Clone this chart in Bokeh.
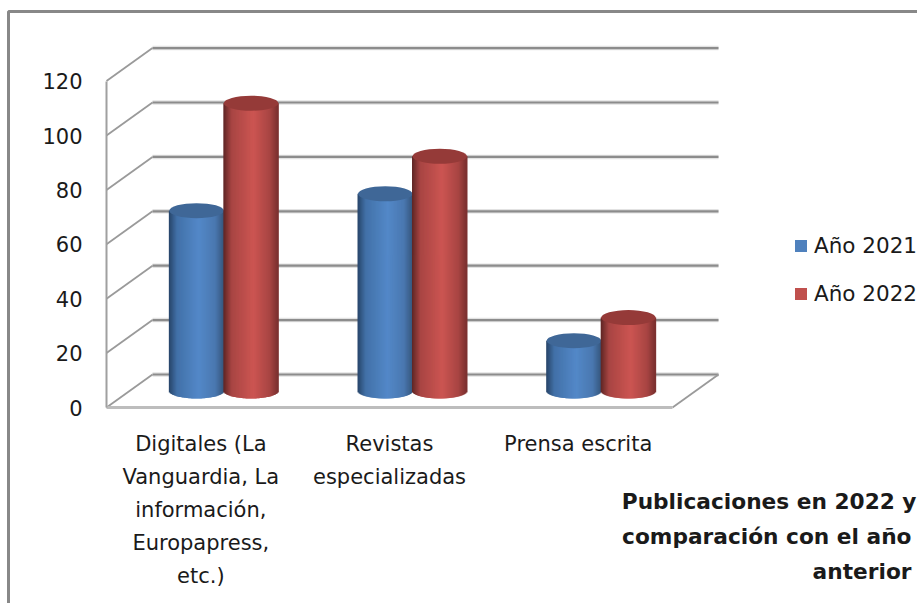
import math
from bokeh.embed import file_html
from bokeh.resources import INLINE
from bokeh.plotting import figure
from bokeh.models import (ColumnDataSource, FixedTicker, Legend, LegendItem, Range1d)
from bokeh.core.properties import value

categories = ["Digitales (La\nVanguardia, La\ninformación,\nEuropapress,\netc.)",
              "Revistas\nespecializadas", "Prensa escrita"]
series_names = ["Año 2021", "Año 2022"]
values_2021 = [66.3, 72.5, 18.5]
values_2022 = [105.8, 86.3, 27]
y_ticks = [0, 20, 40, 60, 80, 100, 120]
title_lines = ["Publicaciones en 2022 y", "comparación con el año", "anterior"]

FONT = "DejaVu Sans"
FS = "21px"
PX_X = 188.67
PX_Y = 2.72
DX = 46 / PX_X
DY = 33 / PX_Y
BAR_W = 54.5 / PX_X
CAP_H = 15 / PX_Y
N_STRIPS = 55

W, H = 917, 603
ORIGIN_X, ORIGIN_Y = 106, 407   # where the axes cross on the page


def dx(px):
    return (px - ORIGIN_X) / PX_X


def dy(py):
    return (ORIGIN_Y - py) / PX_Y


p = figure(width=W, height=H, output_backend="svg", toolbar_location=None,
           frame_width=W, frame_height=H,
           min_border_left=0, min_border_right=0, min_border_top=0, min_border_bottom=0,
           x_range=Range1d(dx(0), dx(W)), y_range=Range1d(dy(H), dy(0)),
           background_fill_color="white", border_fill_color="white")
p.outline_line_color = None
p.grid.visible = False

ya = p.yaxis[0]
ya.fixed_location = 0
ya.ticker = FixedTicker(ticks=y_ticks)
ya.bounds = (0, 120)
ya.axis_line_color = "#A0A0A0"
ya.axis_line_width = 2
ya.major_tick_line_color = None
ya.minor_tick_line_color = None
ya.major_label_standoff = 18
ya.major_label_text_font = FONT
ya.major_label_text_font_size = FS
ya.major_label_text_color = "#1a1a1a"

xa = p.xaxis[0]
xa.fixed_location = 0
xa.ticker = FixedTicker(ticks=[i + 0.5 for i in range(len(categories))])
xa.major_label_overrides = {i + 0.5: c for i, c in enumerate(categories)}
xa.bounds = (0, len(categories))
xa.axis_line_color = "#BDBDBD"
xa.axis_line_width = 3
xa.major_tick_line_color = None
xa.minor_tick_line_color = None
xa.major_label_standoff = 18
xa.major_label_text_font = FONT
xa.major_label_text_font_size = FS
xa.major_label_text_color = "#1a1a1a"
xa.major_label_text_line_height = 1.38

# outer border of the chart area
p.line(x=[dx(8), dx(8), dx(W)], y=[dy(H), dy(11), dy(11)], line_color="#888888", line_width=3)

# walls: gridlines on the back wall, diagonals on the side wall, floor edge
n = len(categories)
for color, lw in (("#E2E2E2", 4.5), ("#8C8C8C", 2.2)):
    p.segment(x0=[DX] * len(y_ticks), x1=[DX + n] * len(y_ticks),
              y0=[t + DY for t in y_ticks], y1=[t + DY for t in y_ticks],
              line_color=color, line_width=lw)
p.segment(x0=[0] * len(y_ticks), x1=[DX] * len(y_ticks),
          y0=y_ticks, y1=[t + DY for t in y_ticks],
          line_color="#9A9A9A", line_width=1.8)
p.segment(x0=[n], x1=[n + DX], y0=[0], y1=[DY], line_color="#9A9A9A", line_width=1.8)


def hexrgb(h):
    return [int(h[i:i + 2], 16) for i in (1, 3, 5)]


def ramp(stops, t):
    for (t0, c0), (t1, c1) in zip(stops, stops[1:]):
        if t <= t1:
            f = (t - t0) / (t1 - t0)
            a, b = hexrgb(c0), hexrgb(c1)
            return "#%02x%02x%02x" % tuple(round(a[k] + (b[k] - a[k]) * f) for k in range(3))
    return stops[-1][1]


BLUE = [(0, "#274468"), (.15, "#4271A8"), (.55, "#5388C8"), (.85, "#4A78B0"), (1, "#37587F")]
RED = [(0, "#5E2524"), (.15, "#A84543"), (.55, "#CC5552"), (.85, "#A84543"), (1, "#7A302F")]
CAPS = ["#3F6797", "#953A38"]
LEG = ["#4F81BD", "#C0504D"]

for s, (vals, stops) in enumerate(zip((values_2021, values_2022), (BLUE, RED))):
    for i, v in enumerate(vals):
        cx = i + 0.5 + DX / 2 + (s - 0.5) * BAR_W
        base = DY / 2
        xs, tops, bots, cols = [], [], [], []
        for k in range(N_STRIPS):
            t = (k + 0.5) / N_STRIPS
            u = 2 * t - 1
            xs.append(cx + u * BAR_W / 2)
            tops.append(base + v)
            bots.append(base - CAP_H / 2 * math.sqrt(1 - u * u))
            cols.append(ramp(stops, t))
        src = ColumnDataSource(dict(x=xs, top=tops, bottom=bots, c=cols))
        p.vbar(x="x", top="top", bottom="bottom", width=BAR_W / N_STRIPS * 2,
               fill_color="c", line_color=None, source=src)
        p.ellipse(x=[cx], y=[base + v], width=BAR_W, height=CAP_H,
                  fill_color=CAPS[s], line_color=None)

# legend
items = []
for name, col in zip(series_names, LEG):
    r = p.vbar(x=[float("nan")], top=[float("nan")], width=0.1, fill_color=col, line_color=None)
    items.append(LegendItem(label=name, renderers=[r]))
leg = Legend(items=items, location=(793, H - 306),
             border_line_color=None, background_fill_alpha=0,
             label_text_font=FONT, label_text_font_size="21.5px", label_text_color="#1a1a1a",
             glyph_width=15, glyph_height=15, spacing=23, padding=4, margin=0, label_standoff=6)
p.add_layout(leg)

# chart title, right aligned, below the plot
p.text(x=[dx(r) for r in (916, 911, 911)], y=[dy(t) for t in (501, 536, 571)], text=title_lines,
       text_align="right", text_baseline="middle", text_font=value(FONT),
       text_font_size="21.7px", text_font_style="bold", text_color="#1a1a1a")

open("out.html", "w").write(file_html(p, INLINE))
